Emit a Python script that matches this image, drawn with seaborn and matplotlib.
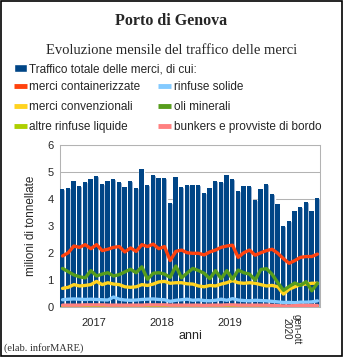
import numpy as np
import matplotlib
matplotlib.use("Agg")
import matplotlib.pyplot as plt
from matplotlib.lines import Line2D
from matplotlib.patches import Patch, Rectangle
import seaborn as sns

# ---- data (milioni di tonnellate, gennaio 2017 - ottobre 2020) ----
anni = ["2017", "2018", "2019", "gen-ott\n2020"]
mesi_per_anno = [12, 12, 12, 10]

totale = [4.37, 4.41, 4.68, 4.49, 4.64, 4.76, 4.87, 4.55, 4.67, 4.74, 4.64, 4.47,
          4.69, 4.41, 5.12, 4.52, 4.89, 4.79, 4.79, 3.85, 4.83, 4.46, 4.53, 4.53,
          4.53, 4.23, 4.41, 4.67, 4.63, 4.90, 4.75, 4.32, 4.48, 4.48, 3.99, 4.37,
          4.55, 4.19, 3.83, 3.01, 3.21, 3.57, 3.71, 3.89, 3.58, 4.06]
containerizzate = [1.90, 2.02, 2.27, 2.22, 2.32, 2.17, 2.32, 2.10, 2.15, 2.22, 2.25, 2.05,
                   2.20, 2.07, 2.32, 2.25, 2.34, 2.17, 2.25, 1.73, 2.07, 2.12, 2.02, 2.00,
                   2.00, 1.94, 2.05, 2.12, 2.22, 2.27, 2.30, 1.85, 2.02, 2.12, 1.93, 2.02,
                   2.10, 2.15, 2.00, 1.80, 1.63, 1.73, 1.85, 1.88, 1.88, 1.97]
rinfuse_solide = [0.28, 0.30, 0.31, 0.30, 0.29, 0.30, 0.29, 0.28, 0.27, 0.38, 0.30, 0.27,
                  0.26, 0.27, 0.29, 0.30, 0.31, 0.29, 0.28, 0.22, 0.26, 0.28, 0.30, 0.26,
                  0.28, 0.25, 0.24, 0.26, 0.30, 0.26, 0.32, 0.27, 0.25, 0.24, 0.26, 0.25,
                  0.24, 0.22, 0.20, 0.18, 0.18, 0.17, 0.19, 0.19, 0.20, 0.24]
convenzionali = [0.70, 0.74, 0.84, 0.79, 0.81, 0.84, 0.96, 0.84, 0.91, 0.86, 0.84, 0.76,
                 0.74, 0.76, 0.84, 0.81, 0.86, 0.94, 0.96, 0.89, 0.91, 0.91, 0.87, 0.86,
                 0.79, 0.76, 0.81, 0.79, 0.86, 0.91, 0.99, 0.91, 0.89, 0.91, 0.89, 0.84,
                 0.79, 0.81, 0.76, 0.49, 0.67, 0.76, 0.84, 0.86, 0.89, 0.89]
oli_minerali = [1.44, 1.32, 1.20, 1.13, 1.09, 1.36, 1.16, 1.23, 1.28, 1.16, 1.21, 1.31,
                1.41, 1.28, 1.50, 1.04, 1.26, 1.28, 1.23, 1.11, 1.53, 1.09, 1.27, 1.44,
                1.36, 1.26, 1.06, 1.36, 1.06, 1.36, 1.04, 1.38, 1.28, 1.23, 1.01, 1.40,
                1.43, 1.22, 0.91, 0.63, 0.77, 0.90, 0.81, 0.95, 0.61, 0.89]
altre_rinfuse_liquide = [0.03, 0.03, 0.03, 0.03, 0.03, 0.03, 0.03, 0.03, 0.03, 0.03, 0.03, 0.03,
                         0.03, 0.03, 0.03, 0.03, 0.03, 0.03, 0.03, 0.03, 0.03, 0.03, 0.03, 0.03,
                         0.03, 0.03, 0.03, 0.03, 0.03, 0.03, 0.03, 0.03, 0.03, 0.03, 0.03, 0.03,
                         0.03, 0.03, 0.03, 0.02, 0.02, 0.03, 0.03, 0.03, 0.03, 0.03]
bunkers = [0.08, 0.08, 0.08, 0.08, 0.09, 0.09, 0.09, 0.09, 0.08, 0.08, 0.08, 0.08,
           0.08, 0.08, 0.08, 0.09, 0.09, 0.09, 0.09, 0.08, 0.08, 0.08, 0.08, 0.08,
           0.08, 0.07, 0.08, 0.08, 0.08, 0.09, 0.09, 0.08, 0.08, 0.08, 0.08, 0.08,
           0.08, 0.07, 0.06, 0.05, 0.05, 0.06, 0.07, 0.07, 0.07, 0.07]

serie = [
    ("merci containerizzate", containerizzate, "#ff420e"),
    ("rinfuse solide", rinfuse_solide, "#83caff"),
    ("merci convenzionali", convenzionali, "#ffd320"),
    ("oli minerali", oli_minerali, "#579d1c"),
    ("altre rinfuse liquide", altre_rinfuse_liquide, "#aecf00"),
    ("bunkers e provviste di bordo", bunkers, "#ff8080"),
]

sns.set_style("white")
plt.rcParams["font.family"] = ["Liberation Sans", "DejaVu Sans"]

W, H = 343, 357
fig = plt.figure(figsize=(W / 100, H / 100), dpi=100)
fig.patch.set_facecolor("white")

ax = fig.add_axes([59.7 / W, 1 - 307.3 / H, 260.6 / W, 162.0 / H])
ax.set_axisbelow(True)

n = len(totale)
pos = np.arange(n)
grid_col = "#b3b3b3"

# bars: light rim underneath, dark body on top
sns.barplot(x=pos, y=totale, color="#7f9fc6", width=0.9, saturation=1,
            ax=ax, zorder=2)
ax.bar(pos - 0.05, totale, width=0.78, color="#004586", zorder=3, linewidth=0)

for nome, valori, col in serie:
    sns.lineplot(x=pos, y=valori, color=col, linewidth=2.4, ax=ax, zorder=4,
                 solid_joinstyle="round", solid_capstyle="round")

ax.set_xlim(-0.5, n - 0.5)
ax.set_ylim(0, 6)
ax.set_yticks(range(0, 7))
ax.set_yticklabels([str(v) for v in range(0, 7)], fontsize=8)
ax.yaxis.grid(True, color=grid_col, linewidth=0.75)
ax.xaxis.grid(False)

confini = np.cumsum([0] + mesi_per_anno) - 0.5
ax.set_xticks(confini)
ax.set_xticklabels([])
ax.tick_params(axis="x", length=4.5, width=0.75, color=grid_col, direction="out")
ax.tick_params(axis="y", length=2.5, width=0.75, color=grid_col, pad=2)
for s in ax.spines.values():
    s.set_color(grid_col)
    s.set_linewidth(0.75)
ax.set_xlabel("")
ax.set_ylabel("")

# year labels centred under each block of months
trans = ax.get_xaxis_transform()
centri = (confini[:-1] + confini[1:]) / 2
for c, lab in zip(centri, anni):
    if "\n" in lab:
        ax.text(c, -0.04, lab, transform=trans, rotation=-90, ha="center", va="top",
                fontsize=7, linespacing=1.0)
    else:
        ax.text(c, -0.095, lab, transform=trans, ha="center", va="center", fontsize=8)

ax.text(0.5, -0.18, "anni", transform=ax.transAxes, ha="center", va="center", fontsize=9)
ax.text(-0.11, 0.5, "milioni di tonnellate", transform=ax.transAxes, rotation=90,
        ha="center", va="center", fontsize=8.5)

# titles
fig.text(0.5, 1 - 25.2 / H, "Porto di Genova", ha="center", va="baseline",
         fontsize=11.5, fontweight="bold", family="Liberation Serif")
fig.text(0.5, 1 - 53.5 / H, "Evoluzione mensile del traffico delle merci", ha="center",
         va="baseline", fontsize=10.5, family="Liberation Serif")

# legends
leg_kw = dict(frameon=False, fontsize=8.5, borderpad=0, borderaxespad=0,
              handlelength=1.1, handletextpad=0.2, labelspacing=0.67, loc="upper left")
fig.legend([Patch(facecolor="#004586")], ["Traffico totale delle merci, di cui:"],
           bbox_to_anchor=(14 / W, 1 - 63 / H), **leg_kw)
ordine = [0, 2, 4, 1, 3, 5]
handles = [Line2D([], [], color=serie[i][2], linewidth=3.5, solid_capstyle="butt") for i in ordine]
labels = [serie[i][0] for i in ordine]
fig.legend(handles, labels, ncol=2, columnspacing=1.5,
           bbox_to_anchor=(14 / W, 1 - 81 / H), **leg_kw)

fig.text(4 / W, 1 - 351 / H, "(elab. inforMARE)", ha="left", va="baseline",
         fontsize=7.5, family="Liberation Serif", color="#303030")

fig.patches.append(Rectangle((0.5 / W, 1.5 / H), 341 / W, 354.5 / H,
                             transform=fig.transFigure, fill=False,
                             edgecolor="black", linewidth=1.2))

fig.savefig("out.png", dpi=100)
